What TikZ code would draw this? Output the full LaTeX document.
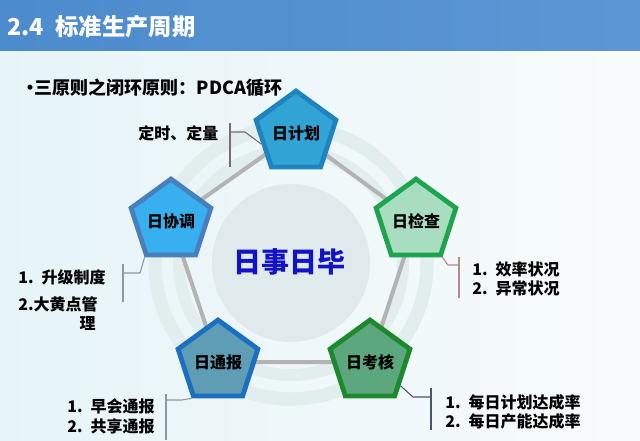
\documentclass[tikz,border=0pt]{standalone}
\usepackage{fontspec}
\setmainfont{Noto Sans CJK SC}[BoldFont={Noto Sans CJK SC Black}]
\usetikzlibrary{shapes.geometric, calc}

\definecolor{bgleft}{HTML}{E6F4F8}
\definecolor{bgright}{HTML}{F8FBFC}
\definecolor{barleft}{HTML}{4C8BCC}
\definecolor{barmid}{HTML}{84B4E0}
\definecolor{barright}{HTML}{5C97D5}
\definecolor{ringgray}{HTML}{E2EDEE}
\definecolor{corefill}{HTML}{E0EAED}
\definecolor{linkgray}{HTML}{B3B3B3}
\definecolor{planfill}{HTML}{31A3D5}
\definecolor{planline}{HTML}{1D84BE}
\definecolor{checkfill}{HTML}{A9DDBF}
\definecolor{checkline}{HTML}{1EA34E}
\definecolor{assessfill}{HTML}{5CA77D}
\definecolor{assessline}{HTML}{1C8A2C}
\definecolor{reportfill}{HTML}{5E9DB3}
\definecolor{reportline}{HTML}{1B6FC2}
\definecolor{coordfill}{HTML}{38AFEE}
\definecolor{coordline}{HTML}{4A7FBE}
\definecolor{leadgray}{HTML}{8A98A2}
\definecolor{leadred}{HTML}{B88888}
\definecolor{leadnavy}{HTML}{4A5570}
\definecolor{leadmauve}{HTML}{7A6A70}
\definecolor{corecolor}{HTML}{1212C8}

\begin{document}
\begin{tikzpicture}[x=0.75pt, y=-0.75pt,
  pent/.style={regular polygon, regular polygon sides=5, minimum size=55.5pt,
    inner sep=0pt, line width=3.6pt, font=\bfseries\fontsize{12}{14}\selectfont},
  ring/.style={draw=ringgray, line width=9pt},
  link/.style={draw=linkgray, line width=3pt},
  note/.style={anchor=west, inner sep=0pt, align=left,
    font=\bfseries\fontsize{12}{14.5}\selectfont},
  leader/.style={line width=0.8pt}]

\useasboundingbox (0,0) rectangle (640,440);

% Fondo y barra de titulo
\shade[left color=bgleft, right color=bgright] (0,0) rectangle (640,440);
\shade[left color=barleft, middle color=barmid, right color=barright] (0,0) rectangle (640,50);
\node[anchor=west, inner sep=0pt, text=white, font=\bfseries\fontsize{17.5}{20}\selectfont]
  (title) at (7,27) {2.4\enspace 标准生产周期};
\node[anchor=west, inner sep=0pt, font=\bfseries\fontsize{13.5}{16}\selectfont]
  (subtitle) at (21,88) {•\kern-0.25em 三原则之闭环原则：PDCA循环};

% Anillos y circulo central
\coordinate (O) at (291,263);
\draw[ring] (O) circle (112);
\draw[ring, line width=10pt] (O) circle (136);
\fill[corefill] (O) circle (79);
\node[text=corecolor, inner sep=0pt, font=\bfseries\fontsize{21}{24}\selectfont]
  (core) at (289,262) {日事日毕};

% Vertices del pentagono
\coordinate (p1) at (296,133);
\coordinate (p2) at (416,221);
\coordinate (p3) at (370,362);
\coordinate (p4) at (218,362);
\coordinate (p5) at (171,221);
\draw[link] (p1) -- (p2) -- (p3) -- (p4) -- (p5) -- cycle;

% Etapas
\node[pent, fill=planfill, draw=planline] (plan) at (p1) {日计划};
\node[pent, fill=checkfill, draw=checkline] (check) at (p2) {日检查};
\node[pent, fill=assessfill, draw=assessline] (assess) at (p3) {日考核};
\node[pent, fill=reportfill, draw=reportline] (report) at (p4) {日通报};
\node[pent, fill=coordfill, draw=coordline] (coord) at (p5) {日协调};

% Notas
\node[note] (plannote) at (138,133) {定时、定量};
\coordinate (planbar) at (230,132);
\draw[leader, leadmauve] (230,123) -- (230,167);
\draw[leader, leadmauve] (planbar) -- ++(15,0) -- (plan.side 2);

\node[note] (checknote) at (472,279) {1.\enspace 效率状况\\2.\enspace 异常状况};
\coordinate (checkbar) at (459,265);
\draw[leader, leadred] (459,257) -- (459,298);
\draw[leader, leadred] (check.corner 4) -- (448,265) -- (checkbar);

\node[note] (assessnote) at (445,412) {1.\enspace 每日计划达成率\\2.\enspace 每日产能达成率};
\coordinate (assessbar) at (431,397);
\draw[leader, leadnavy] (431,388) -- (431,430);
\draw[leader, leadnavy] ($(assess.corner 4)!0.25!(assess.corner 5)$) -- (413,397) -- (assessbar);

\node[note] (reportnote) at (67,416.5) {1.\enspace 早会通报\\2.\enspace 共享通报};
\coordinate (reportbar) at (166,400);
\draw[leader, leadgray] (166,394) -- (166,440);
\draw[leader, leadgray] (report.corner 3) -- (182,400) -- (reportbar);

\node[note, anchor=north west, text width=58pt] (coordnote) at (18,269)
  {1.\enspace 升级制度\\[6pt]2.大黄点管\\\mbox{}\hfill 理};
\coordinate (coordbar) at (123,273);
\draw[leader, leadgray] (123,264) -- (123,302);
\draw[leader, leadgray] (coord.corner 3) -- (140,273) -- (coordbar);

\end{tikzpicture}
\end{document}
